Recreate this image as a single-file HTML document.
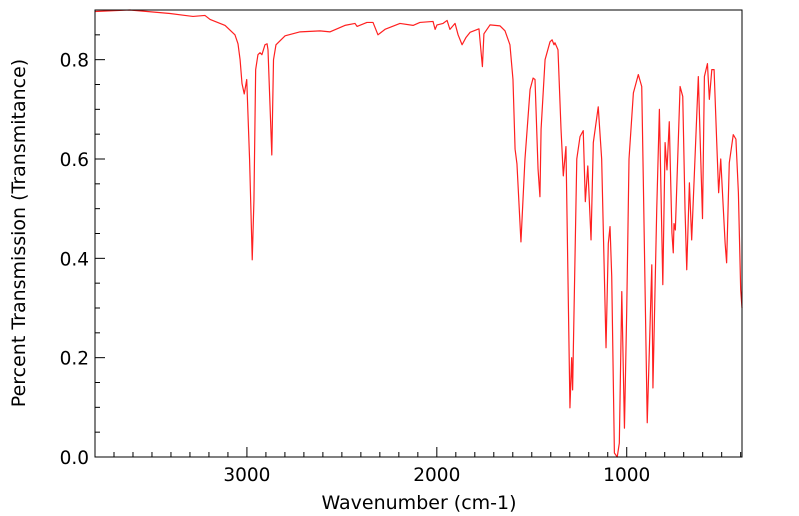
<!DOCTYPE html>
<html><head><meta charset="utf-8"><style>
body{margin:0;background:#fff;}
svg{display:block;font-family:"DejaVu Sans",sans-serif;}
</style></head><body>
<svg id="chart" width="799" height="516" viewBox="0 0 799 516" xmlns="http://www.w3.org/2000/svg">
<g id="ticks"></g>
<g id="labels"></g>
<path id="spectrum" fill="none" stroke="#ff2020" stroke-width="1.2" stroke-linejoin="round"></path>
<rect x="95" y="10" width="647" height="447" fill="none" stroke="#000" stroke-width="1"></rect>
<text x="419" y="509" font-size="19" text-anchor="middle">Wavenumber (cm-1)</text>
<text transform="translate(25,233) rotate(-90)" font-size="19" text-anchor="middle">Percent Transmission (Transmitance)</text>
</svg>
<script>
const wavenumbers=[3800,3616,3405,3326,3284,3221,3194,3115,3063,3047,3036,3026,3014,3001,2986,2972,2963,2954,2942,2931,2921,2905,2894,2889,2869,2860,2847,2799,2720,2615,2562,2484,2431,2420,2368,2336,2310,2273,2194,2125,2089,2020,2009,1999,1967,1946,1931,1904,1888,1867,1846,1825,1778,1760,1752,1720,1667,1641,1615,1599,1588,1578,1557,1536,1509,1493,1483,1467,1457,1451,1430,1404,1393,1383,1378,1362,1346,1334,1320,1299,1290,1285,1263,1246,1229,1218,1205,1188,1176,1150,1132,1109,1097,1088,1079,1065,1050,1039,1026,1012,1000,988,965,939,921,913,892,868,862,842,828,810,798,788,776,762,755,751,744,719,705,693,684,670,658,623,601,591,575,565,552,540,526,516,505,482,474,460,439,425,412,400,393];
const transmittance=[.897,.90,.893,.889,.887,.889,.881,.869,.850,.832,.80,.752,.731,.760,.599,.397,.518,.780,.810,.814,.810,.83,.832,.82,.608,.80,.83,.848,.856,.858,.856,.869,.873,.867,.875,.875,.85,.861,.873,.869,.875,.877,.861,.87,.873,.879,.861,.873,.85,.83,.845,.855,.862,.786,.852,.87,.868,.858,.83,.76,.62,.59,.433,.599,.74,.763,.76,.58,.524,.66,.80,.836,.84,.83,.834,.82,.66,.566,.625,.099,.20,.135,.60,.645,.657,.514,.586,.437,.633,.705,.60,.22,.43,.464,.363,.008,0,.028,.333,.058,.296,.60,.733,.77,.746,.565,.069,.387,.139,.498,.70,.347,.633,.578,.675,.451,.411,.47,.457,.746,.726,.498,.377,.552,.437,.766,.48,.766,.792,.72,.78,.78,.633,.532,.60,.431,.391,.592,.649,.64,.532,.337,.30];
const xMajorTicks=[3000,2000,1000];
const yMajorTicks=[0,0.2,0.4,0.6,0.8];
const yTickLabels=["0.0","0.2","0.4","0.6","0.8"];
const X0=95,X1=742,Y0=457,Y1=10,WMAX=3800,WMIN=393,TMIN=0,TMAX=0.9;
function xs(w){return X0+(WMAX-w)*(X1-X0)/(WMAX-WMIN);}
function ys(t){return Y0-(t-TMIN)*(Y0-Y1)/(TMAX-TMIN);}
const NS="http://www.w3.org/2000/svg";
let d="";
for(let i=0;i<wavenumbers.length;i++){d+=(i?"L":"M")+xs(wavenumbers[i]).toFixed(2)+","+ys(transmittance[i]).toFixed(2);}
document.getElementById("spectrum").setAttribute("d",d);
const tg=document.getElementById("ticks"),lg=document.getElementById("labels");
function line(x1,y1,x2,y2){const l=document.createElementNS(NS,"line");l.setAttribute("x1",x1);l.setAttribute("y1",y1);l.setAttribute("x2",x2);l.setAttribute("y2",y2);l.setAttribute("stroke","#000");l.setAttribute("stroke-width","1");


tg.appendChild(l);}
for(let w=3700;w>=400;w-=100){const x=xs(w);const major=xMajorTicks.includes(w);line(x,Y0,x,Y0-(major?10:5));}
for(let t=0.05;t<0.9;t+=0.05){const y=ys(t);const major=Math.abs(t*5-Math.round(t*5))<1e-6;line(X0,y,X0+(major?10:5),y);}
xMajorTicks.forEach(w=>{const t=document.createElementNS(NS,"text");t.setAttribute("x",xs(w));t.setAttribute("y",481);t.setAttribute("font-size","18.5");t.setAttribute("text-anchor","middle");t.textContent=String(w);


lg.appendChild(t);});
yMajorTicks.forEach((v,i)=>{const t=document.createElementNS(NS,"text");t.setAttribute("x",89);t.setAttribute("y",ys(v)+7);t.setAttribute("font-size","18.5");t.setAttribute("text-anchor","end");t.textContent=yTickLabels[i];


lg.appendChild(t);});
</script>
</body></html>
